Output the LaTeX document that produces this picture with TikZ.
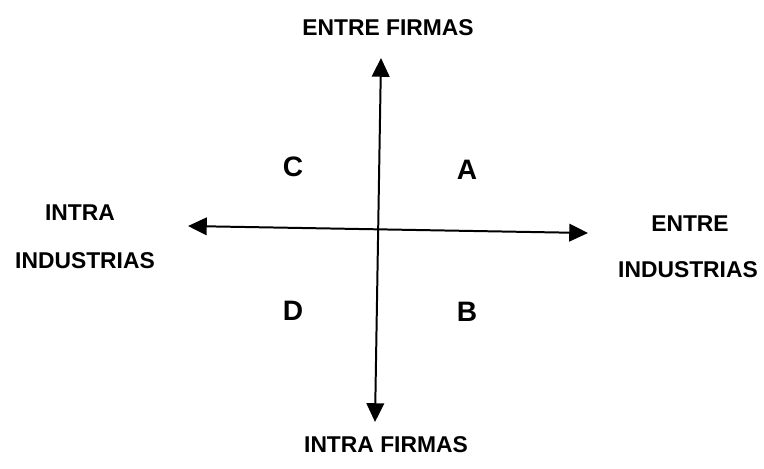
\documentclass[tikz,border=0pt]{standalone}
\usepackage{fontspec}
\setmainfont{Liberation Sans}
\usetikzlibrary{arrows.meta}

\begin{document}
\begin{tikzpicture}[x=0.03cm, y=-0.03cm,
    lbl/.style={font=\fontsize{19.5}{22}\selectfont\bfseries, inner sep=0pt},
    quad/.style={font=\fontsize{24}{26}\selectfont\bfseries, inner sep=0pt},
    axis/.style={{Triangle[length=16pt,width=15pt]}-{Triangle[length=16pt,width=15pt]}, line width=1.7pt}
  ]
    \useasboundingbox (0,0) rectangle (764,468);

    % axis ends
    \coordinate (top)    at (381,58);
    \coordinate (bottom) at (375,422);
    \coordinate (left)   at (188,226);
    \coordinate (right)  at (588,233);

    \draw[axis] (bottom) -- (top);
    \draw[axis] (left) -- (right);

    % labels
    \node[lbl] (ef) at (388,28)  {ENTRE FIRMAS};
    \node[lbl] (if) at (386,445) {INTRA FIRMAS};
    \node[lbl] (ii1) at (80,213) {INTRA};
    \node[lbl] (ii2) at (85,261) {INDUSTRIAS};
    \node[lbl] (ei1) at (690,224) {ENTRE};
    \node[lbl] (ei2) at (688,270) {INDUSTRIAS};

    % quadrants
    \node[quad] (qc) at (293,167) {C};
    \node[quad] (qa) at (467,170) {A};
    \node[quad] (qd) at (293,311) {D};
    \node[quad] (qb) at (467,312) {B};
\end{tikzpicture}
\end{document}
